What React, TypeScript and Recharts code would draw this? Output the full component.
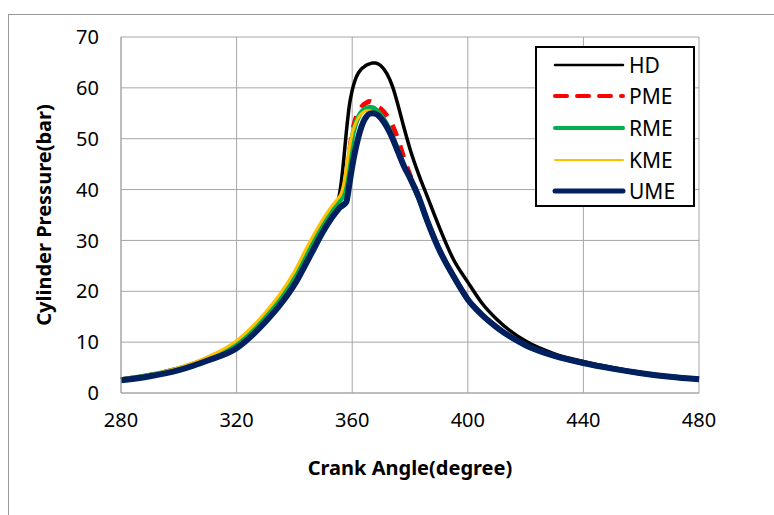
import { CartesianGrid, Label, Line, LineChart, XAxis, YAxis } from "recharts";

const ANGLES = [280, 290, 300, 310, 320, 330, 335, 340, 345, 350, 353, 355, 356, 357, 358, 359, 360, 361, 362, 363, 364, 365, 366, 367, 368, 369, 370, 372, 374, 376, 378, 380, 383, 386, 390, 395, 400, 405, 410, 420, 430, 440, 450, 460, 470, 480];

const HD = [2.6, 3.5, 4.8, 6.8, 9.8, 15.2, 18.7, 23.0, 28.5, 33.5, 36.0, 37.6, 40.5, 45.5, 51.5, 56.5, 59.5, 61.5, 62.8, 63.6, 64.1, 64.5, 64.7, 64.9, 64.9, 64.7, 64.3, 62.8, 60.2, 56.3, 52, 48, 43, 38.6, 32.8, 26.3, 21.8, 17.6, 14.5, 10.2, 7.7, 6.2, 5.0, 4.0, 3.3, 2.8];
const PME = [2.6, 3.5, 4.8, 6.8, 9.8, 15.1, 18.6, 22.9, 28.4, 33.4, 35.9, 37.3, 38.0, 39.5, 42.5, 47, 51, 53.5, 55, 56, 56.7, 57.1, 57.3, 57.1, 56.6, 56.2, 55.8, 54.5, 52.5, 49.5, 46, 42.8, 38.6, 33.9, 28.4, 23.1, 18.5, 15.4, 13.0, 9.4, 7.3, 5.9, 4.8, 3.9, 3.2, 2.7];
const RME = [2.6, 3.5, 4.8, 6.8, 9.8, 15.1, 18.6, 22.9, 28.4, 33.4, 35.9, 37.3, 38.0, 39.0, 42.0, 46.5, 50.2, 52.6, 54.1, 55.1, 55.7, 56.0, 56.2, 56.1, 55.8, 55.2, 54.5, 52.8, 50.3, 47.5, 44.5, 42.2, 38.3, 33.7, 28.3, 23.0, 18.4, 15.3, 12.9, 9.4, 7.3, 5.9, 4.8, 3.9, 3.2, 2.7];
const KME = [2.7, 3.6, 5.0, 7.1, 10.3, 15.9, 19.5, 23.9, 29.4, 34.3, 36.8, 38.2, 39.0, 41.0, 44.5, 48.2, 51.0, 52.8, 54.0, 54.8, 55.3, 55.5, 55.5, 55.3, 54.9, 54.3, 53.6, 51.9, 49.6, 46.8, 44.1, 41.9, 38.0, 33.4, 28.1, 22.8, 18.3, 15.2, 12.8, 9.3, 7.3, 5.9, 4.8, 3.9, 3.2, 2.7];
const UME = [2.5, 3.3, 4.5, 6.4, 8.8, 14.0, 17.3, 21.3, 26.5, 31.8, 34.5, 36.0, 36.6, 37.0, 37.6, 41, 44.5, 47.5, 50, 52, 53.5, 54.4, 54.9, 55.0, 54.9, 54.6, 54.0, 52.3, 50, 47.2, 44.5, 42.3, 38.5, 33.8, 28.3, 23.0, 18.4, 15.3, 12.9, 9.4, 7.3, 5.9, 4.8, 3.9, 3.2, 2.7];

const X_TICKS = [280, 320, 360, 400, 440, 480];
const Y_TICKS = [0, 10, 20, 30, 40, 50, 60, 70];

const SERIES = [
  { key: "HD", color: "#000000", width: 3.5, dash: undefined },
  { key: "PME", color: "#ff0000", width: 5, dash: "12 10" },
  { key: "RME", color: "#00b050", width: 5, dash: undefined },
  { key: "KME", color: "#ffc000", width: 3, dash: undefined },
  { key: "UME", color: "#002060", width: 6, dash: undefined },
];

const data = ANGLES.map((a, i) => ({
  angle: a,
  HD: HD[i],
  PME: PME[i],
  RME: RME[i],
  KME: KME[i],
  UME: UME[i],
}));

const FONT = "'Noto Sans', sans-serif";
const GRID = "#a6a6a6";

const LegendBox = () => (
  <div style={{ position: "absolute", left: 535, top: 46, border: "2px solid #000", width: 160, height: 161, background: "#fff", boxSizing: "border-box", paddingTop: 1 }}>
    {SERIES.map((s) => (
      <div key={s.key} style={{ display: "flex", alignItems: "center", height: 31.6 }}>
        <svg width={90} height={12} style={{ marginLeft: 6 }}>
          <line x1={12} y1={6} x2={80} y2={6} stroke={s.color} strokeWidth={s.width - 1}
            strokeDasharray={s.dash ? "12 10" : undefined} strokeLinecap="round" />
        </svg>
        <span style={{ fontFamily: FONT, fontSize: 21, color: "#000", marginLeft: -4, lineHeight: "24px" }}>{s.key}</span>
      </div>
    ))}
  </div>
);

export default function App() {
  return (
    <div style={{ position: "absolute", left: 0, top: 0, width: 774, height: 515, overflow: "hidden", background: "#fff" }}>
      <div style={{ position: "absolute", left: 8, top: 14, width: 820, height: 560, border: "1px solid #999" }} />
      <div style={{ position: "absolute", left: 0, top: 0 }}>
        <LineChart width={774} height={515} data={data} margin={{ top: 37, right: 75, bottom: 32, left: 21 }}>
          <CartesianGrid stroke={GRID} strokeWidth={1} horizontalValues={Y_TICKS} verticalValues={X_TICKS} />
          <XAxis dataKey="angle" type="number" domain={[280, 480]} ticks={X_TICKS} height={90}
            stroke={GRID} tickLine={false} tickSize={0} tickMargin={20}
            tick={{ fill: "#000", fontSize: 20, fontFamily: FONT }}>
            <Label value="Crank Angle(degree)" position="insideBottom" offset={8}
              style={{ fontWeight: 700, fontSize: 20, fill: "#000", fontFamily: FONT }} />
          </XAxis>
          <YAxis type="number" domain={[0, 70]} ticks={Y_TICKS} width={100}
            stroke={GRID} tickLine={false} tickSize={0} tickMargin={22}
            tick={{ fill: "#000", fontSize: 20, fontFamily: FONT }}>
            <Label content={({ viewBox }: any) => {
              const cx = viewBox.x + 22;
              const cy = viewBox.y + viewBox.height / 2;
              return (
                <text x={cx} y={cy} transform={`rotate(-90 ${cx} ${cy})`} textAnchor="middle"
                  dominantBaseline="central" style={{ fontWeight: 700, fontSize: 20, fill: "#000", fontFamily: FONT }}>
                  Cylinder Pressure(bar)
                </text>
              );
            }} />
          </YAxis>
          {SERIES.map((s) => (
            <Line key={s.key} dataKey={s.key} type="monotone" stroke={s.color} strokeWidth={s.width}
              strokeDasharray={s.dash} dot={false} activeDot={false} isAnimationActive={false} />
          ))}
        </LineChart>
      </div>
      <LegendBox />
    </div>
  );
}
